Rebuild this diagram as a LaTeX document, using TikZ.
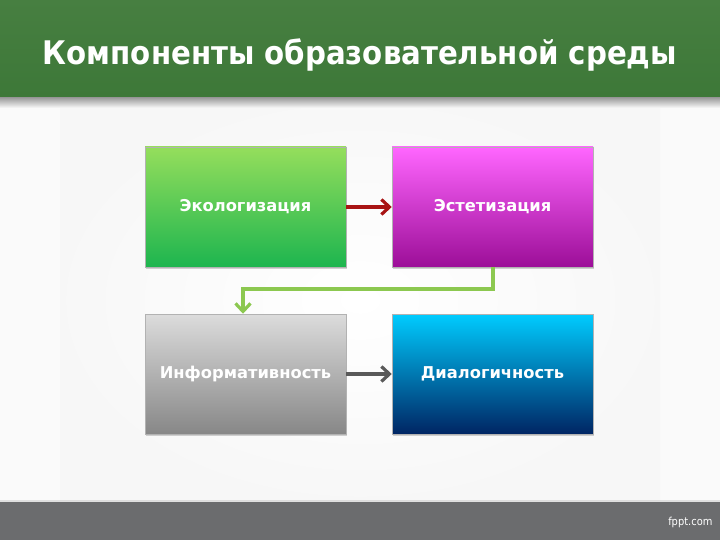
\documentclass[tikz,border=0pt]{standalone}
\usepackage{fontspec}
\setmainfont{DejaVu Sans}
\newfontfamily\condfont{DejaVu Sans Condensed}
\usetikzlibrary{arrows.meta,shadows,calc}
\definecolor{hdr}{HTML}{3D7838}
\definecolor{hdrtop}{HTML}{477F41}
\definecolor{ftr}{HTML}{6B6C6E}
\definecolor{gA}{HTML}{95DE5C}
\definecolor{gB}{HTML}{1DB54F}
\definecolor{mA}{HTML}{FF66FF}
\definecolor{mB}{HTML}{9C0E98}
\definecolor{sA}{HTML}{DCDCDC}
\definecolor{sB}{HTML}{878787}
\definecolor{bA}{HTML}{00CCFF}
\definecolor{bB}{HTML}{002563}
\definecolor{redarr}{HTML}{A81414}
\definecolor{grnarr}{HTML}{8CC850}
\definecolor{grayarr}{HTML}{5A5A5A}
\tikzset{
  box/.style={minimum width=201pt, minimum height=120pt, inner sep=0pt,
    draw=black!30, line width=0.5pt,
    drop shadow={shadow xshift=1.2pt, shadow yshift=-1.8pt, opacity=0.35},
    font=\bfseries\fontsize{16.3}{19}\selectfont, text=white},
  conn/.style={line width=3.4pt, -{Straight Barb[length=8pt,width=15pt,line width=3.2pt]}},
}
\begin{document}
\begin{tikzpicture}[x=1pt,y=-1pt]
\useasboundingbox (0,0) rectangle (720,540);
% background
\fill[white!96!gray] (0,0) rectangle (720,540);
\shade[inner color=white, outer color=white!94!gray] (60,100) rectangle (660,500);
% header
\shade[top color=black!45, bottom color=white!96!gray] (0,96) rectangle (720,108);
\shade[top color=hdrtop, bottom color=hdr] (0,0) rectangle (720,97);
\node[text=white, font=\condfont\bfseries\fontsize{32.5}{38}\selectfont] (title) at (360,55) {Компоненты образовательной среды};
% footer
\fill[black, opacity=0.1] (0,500) rectangle (720,502);
\fill[ftr] (0,502) rectangle (720,540);
\node[text=white, font=\condfont\fontsize{11}{13}\selectfont, anchor=east] (brand) at (716,522) {fppt.com};
% boxes
\node[box, top color=gA, bottom color=gB] (b1) at (245.5,207) {Экологизация};
\node[box, top color=mA, bottom color=mB] (b2) at (492.5,207) {Эстетизация};
\node[box, top color=sA, bottom color=sB] (b3) at (245.5,374) {Информативность};
\node[box, top color=bA, bottom color=bB] (b4) at (492.5,374) {Диалогичность};
% connectors
\draw[conn, redarr] (b1.east) -- (b2.west);
\draw[conn, grayarr] (b3.east) -- (b4.west);
\coordinate (c1) at (493,289);
\coordinate (c2) at (243,289);
\draw[conn, grnarr, line join=miter] (b2.south -| c1) -- (c1) -- (c2) -- (c2 |- b3.north);
\end{tikzpicture}
\end{document}
